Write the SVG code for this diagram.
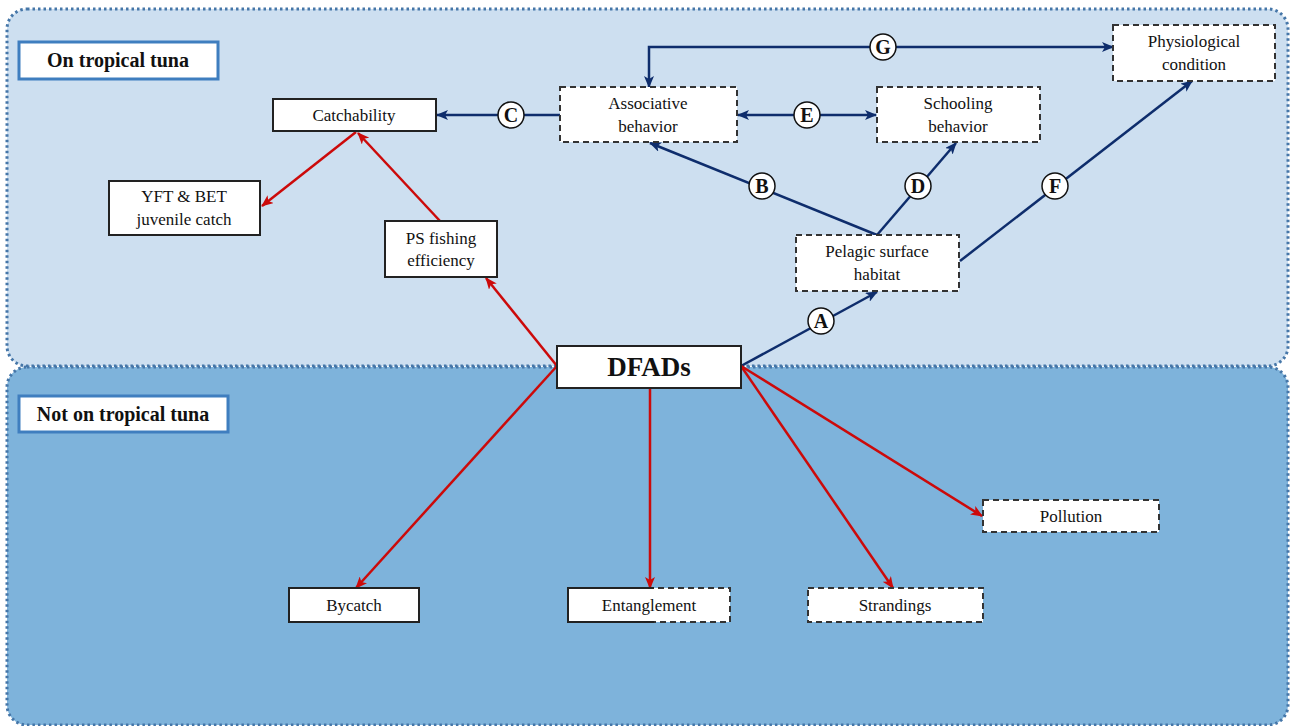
<svg xmlns="http://www.w3.org/2000/svg" width="1290" height="726" viewBox="0 0 1290 726">
<defs>
<style>
.panel{stroke:#4576a8;stroke-width:3;stroke-dasharray:2.5 3}
.box{fill:#fff;stroke:#222;stroke-width:2}
.dash{fill:#fff;stroke:#333;stroke-width:2;stroke-dasharray:6 4}
.lbl{fill:#fff;stroke:#3f7ebf;stroke-width:3}
.t{font-family:'Liberation Serif','Times New Roman',serif;font-size:17px;fill:#111;text-anchor:middle}
.tb{font-family:'Liberation Serif','Times New Roman',serif;font-weight:bold;fill:#111;text-anchor:middle}
.blue{stroke:#0e2d6c;stroke-width:2.5;fill:none}
.red{stroke:#cc0a0a;stroke-width:2.5;fill:none}
.circ{fill:#fff;stroke:#111;stroke-width:1.5}
.ct{font-family:'Liberation Serif','Times New Roman',serif;font-weight:bold;font-size:20px;fill:#111;text-anchor:middle}
</style>
<marker id="ab" viewBox="0 0 12 10" refX="11" refY="5" markerWidth="12" markerHeight="10" markerUnits="userSpaceOnUse" orient="auto-start-reverse"><path d="M0,0 L12,5 L0,10 L3,5 Z" fill="#0e2d6c"/></marker>
<marker id="ar" viewBox="0 0 12 10" refX="11" refY="5" markerWidth="12" markerHeight="10" markerUnits="userSpaceOnUse" orient="auto"><path d="M0,0 L12,5 L0,10 L3,5 Z" fill="#cc0a0a"/></marker>
</defs>
<rect width="1290" height="726" fill="#fff"/>
<g id="panel-top">
<rect class="panel" x="7" y="9" width="1281" height="357" rx="20" fill="#cddff0"/>
</g>
<g id="panel-bottom">
<rect class="panel" x="7" y="367" width="1281" height="358" rx="20" fill="#7eb3db"/>
</g>
<g id="label-on">
<rect class="lbl" x="19" y="42" width="199" height="37"/>
<text class="tb" x="118" y="67" font-size="20">On tropical tuna</text>
</g>
<g id="label-not">
<rect class="lbl" x="19" y="396" width="209" height="36"/>
<text class="tb" x="123" y="421" font-size="20">Not on tropical tuna</text>
</g>
<g id="connectors">
<polyline class="blue" points="1113,47 649,47 649,87" marker-start="url(#ab)" marker-end="url(#ab)"/>
<line class="blue" x1="560" y1="115" x2="437" y2="115" marker-end="url(#ab)"/>
<line class="blue" x1="738" y1="115" x2="876" y2="115" marker-start="url(#ab)" marker-end="url(#ab)"/>
<line class="blue" x1="877" y1="235" x2="650" y2="143" marker-end="url(#ab)"/>
<line class="blue" x1="877" y1="235" x2="956" y2="143" marker-end="url(#ab)"/>
<line class="blue" x1="960" y1="261" x2="1192" y2="81" marker-end="url(#ab)"/>
<line class="blue" x1="741" y1="366" x2="877" y2="292" marker-end="url(#ab)"/>
<line class="red" x1="356" y1="132" x2="262" y2="206" marker-end="url(#ar)"/>
<line class="red" x1="440" y1="221" x2="358" y2="133" marker-end="url(#ar)"/>
<line class="red" x1="557" y1="366" x2="486" y2="278" marker-end="url(#ar)"/>
<line class="red" x1="557" y1="366" x2="356" y2="588" marker-end="url(#ar)"/>
<line class="red" x1="650" y1="388" x2="650" y2="588" marker-end="url(#ar)"/>
<line class="red" x1="741" y1="366" x2="893" y2="588" marker-end="url(#ar)"/>
<line class="red" x1="741" y1="366" x2="982" y2="516" marker-end="url(#ar)"/>
<circle class="circ" cx="883" cy="47" r="13"/><text class="ct" x="883" y="54">G</text>
<circle class="circ" cx="511" cy="115" r="13"/><text class="ct" x="511" y="122">C</text>
<circle class="circ" cx="807" cy="115" r="13"/><text class="ct" x="807" y="122">E</text>
<circle class="circ" cx="762" cy="186" r="13"/><text class="ct" x="762" y="193">B</text>
<circle class="circ" cx="918" cy="186" r="13"/><text class="ct" x="918" y="193">D</text>
<circle class="circ" cx="1055" cy="186" r="13"/><text class="ct" x="1055" y="193">F</text>
<circle class="circ" cx="821" cy="321" r="13"/><text class="ct" x="821" y="328">A</text>
</g>
<g id="catchability">
<rect class="box" x="273" y="99" width="163" height="32"/>
<text class="t" x="354" y="121">Catchability</text>
</g>
<g id="yft">
<rect class="box" x="109" y="181" width="151" height="54"/>
<text class="t" x="184" y="202">YFT &amp; BET</text>
<text class="t" x="184" y="225">juvenile catch</text>
</g>
<g id="ps">
<rect class="box" x="385" y="221" width="112" height="56"/>
<text class="t" x="441" y="244">PS fishing</text>
<text class="t" x="441" y="266">efficiency</text>
</g>
<g id="associative">
<rect class="dash" x="560" y="87" width="177" height="55"/>
<text class="t" x="648" y="109">Associative</text>
<text class="t" x="648" y="132">behavior</text>
</g>
<g id="schooling">
<rect class="dash" x="877" y="87" width="163" height="55"/>
<text class="t" x="958" y="109">Schooling</text>
<text class="t" x="958" y="132">behavior</text>
</g>
<g id="physiological">
<rect class="dash" x="1113" y="25" width="162" height="56"/>
<text class="t" x="1194" y="47">Physiological</text>
<text class="t" x="1194" y="70">condition</text>
</g>
<g id="pelagic">
<rect class="dash" x="796" y="235" width="163" height="56"/>
<text class="t" x="877" y="257">Pelagic surface</text>
<text class="t" x="877" y="280">habitat</text>
</g>
<g id="dfads">
<rect class="box" x="557" y="346" width="184" height="42" stroke-width="2.5"/>
<text class="tb" x="649" y="376" font-size="27">DFADs</text>
</g>
<g id="bycatch">
<rect class="box" x="289" y="588" width="130" height="34"/>
<text class="t" x="354" y="611">Bycatch</text>
</g>
<g id="entanglement">
<rect class="dash" x="568" y="588" width="162" height="34"/>
<polyline points="654,588 568,588 568,622 654,622" fill="none" stroke="#222" stroke-width="2"/>
<text class="t" x="649" y="611">Entanglement</text>
</g>
<g id="strandings">
<rect class="dash" x="808" y="588" width="175" height="34"/>
<text class="t" x="895" y="611">Strandings</text>
</g>
<g id="pollution">
<rect class="dash" x="983" y="500" width="176" height="32"/>
<text class="t" x="1071" y="522">Pollution</text>
</g>
</svg>
